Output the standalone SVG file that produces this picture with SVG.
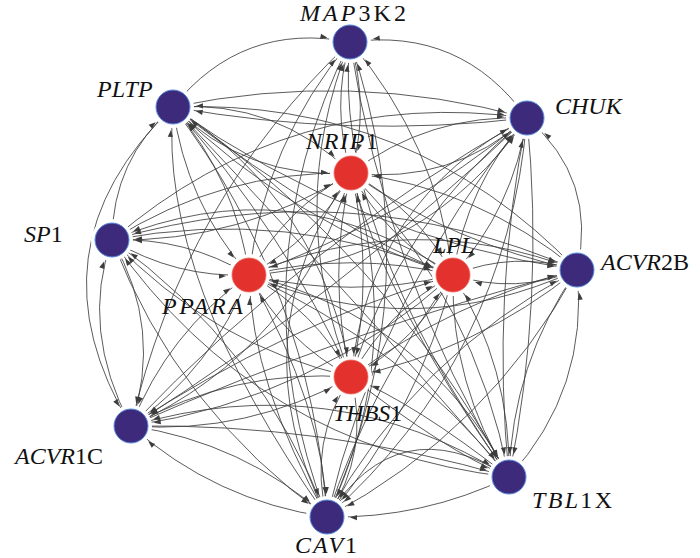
<svg xmlns="http://www.w3.org/2000/svg" width="700" height="558" viewBox="0 0 700 558">
<style>
.e{fill:none;stroke:#3d3d3d;stroke-width:0.85;marker-end:url(#ah)}
.halo{fill:#fff}
.pu{fill:#3d2a7a;stroke:#5b8fe0;stroke-width:1}
.rd{fill:#e3322e;stroke:#f06a60;stroke-width:0.8}
.lb{font-family:"Liberation Serif","Times New Roman",serif;font-size:24px;fill:#111}
.i{font-style:italic}
</style>
<defs>
<marker id="ah" markerUnits="userSpaceOnUse" markerWidth="10" markerHeight="10" refX="23" refY="0" orient="auto" style="overflow:visible"><path d="M0 0L-7 -2.6L-7 2.6Z" fill="#3d3d3d"/></marker>
<marker id="as" markerUnits="userSpaceOnUse" markerWidth="10" markerHeight="10" refX="23" refY="0" orient="auto-start-reverse" style="overflow:visible"><path d="M0 0L-7 -2.6L-7 2.6Z" fill="#3d3d3d"/></marker>
</defs>
<g id="connectors">
<path class="e" d="M173 107Q242 21.25 350 42"/>
<path class="e" d="M527 118Q461.3 26.9 350 42"/>
<path class="e" d="M577 270Q597.6 179 527 118"/>
<path class="e" d="M509 477Q589.5 388.8 577 270"/>
<path class="e" d="M577 270Q512 363.3 509 477"/>
<path class="e" style="marker-start:url(#as)" d="M509 477Q398 406 327 517"/>
<path class="e" d="M509 477Q422.8 518.8 327 517"/>
<path class="e" d="M327 517Q215.5 500.75 131 426"/>
<path class="e" d="M509 477Q331.6 366.5 131 426"/>
<path class="e" d="M131 426Q79.7 328.5 112 240"/>
<path class="e" d="M112 240Q163.4 328.5 131 426"/>
<path class="e" d="M112 240Q112.5 159.9 173 107"/>
<path class="e" d="M173 107Q24.4 249.7 131 426"/>
<path class="e" d="M351 173Q330.9 107.4 350 42"/>
<path class="e" d="M350 42Q370.2 107.4 351 173"/>
<path class="e" d="M249 275Q264.6 143.4 350 42"/>
<path class="e" d="M453 275Q436.5 143.1 350 42"/>
<path class="e" d="M351 377Q283.5 209.3 350 42"/>
<path class="e" d="M327 517Q433.5 284 350 42"/>
<path class="e" d="M509 477Q331.3 223.7 350 42"/>
<path class="e" d="M350 42Q182.75 201 131 426"/>
<path class="e" d="M351 173Q247.15 180 173 107"/>
<path class="e" d="M453 275Q338.2 233 173 107"/>
<path class="e" d="M577 270Q411.75 97.75 173 107"/>
<path class="e" d="M527 118Q349.25 138.75 173 107"/>
<path class="e" d="M351 377Q282.25 228.65 173 107"/>
<path class="e" d="M327 517Q157.75 277.5 173 107"/>
<path class="e" d="M509 477Q385.4 332.35 173 107"/>
<path class="e" d="M173 107Q351.5 69.75 527 118"/>
<path class="e" d="M351 173Q429.1 113.85 527 118"/>
<path class="e" d="M112 240Q291.75 85.6 527 118"/>
<path class="e" d="M249 275Q425.5 263.25 527 118"/>
<path class="e" d="M453 275Q466.45 185.4 527 118"/>
<path class="e" d="M351 377Q400.15 221.1 527 118"/>
<path class="e" d="M327 517Q379 293.5 527 118"/>
<path class="e" d="M509 477Q491 296.15 527 118"/>
<path class="e" d="M527 118Q545 298.85 509 477"/>
<path class="e" d="M131 426Q305.9 242.3 527 118"/>
<path class="e" d="M351 173Q241.55 242.35 112 240"/>
<path class="e" d="M453 275Q291.95 165.4 112 240"/>
<path class="e" d="M577 270Q349.75 171 112 240"/>
<path class="e" d="M249 275Q185.75 236.95 112 240"/>
<path class="e" d="M112 240Q175.25 278.05 249 275"/>
<path class="e" d="M351 377Q210.95 344.35 112 240"/>
<path class="e" d="M327 517Q261.05 346.25 112 240"/>
<path class="e" d="M509 477Q257.25 447.75 112 240"/>
<path class="e" d="M453 275Q351 299.45 249 275"/>
<path class="e" d="M249 275Q351 250.55 453 275"/>
<path class="e" d="M351 173Q315.3 239.3 249 275"/>
<path class="e" d="M249 275Q284.7 208.7 351 173"/>
<path class="e" d="M351 173Q417.3 208.7 453 275"/>
<path class="e" d="M453 275Q386.7 239.3 351 173"/>
<path class="e" d="M453 275Q417.3 341.3 351 377"/>
<path class="e" d="M351 377Q386.7 310.7 453 275"/>
<path class="e" d="M351 173Q375.45 275 351 377"/>
<path class="e" d="M351 377Q326.55 275 351 173"/>
<path class="e" d="M351 377Q284.7 341.3 249 275"/>
<path class="e" d="M249 275Q315.3 310.7 351 377"/>
<path class="e" d="M527 118Q402.1 221.55 249 275"/>
<path class="e" d="M577 270Q414 344.7 249 275"/>
<path class="e" d="M327 517Q251.7 384.3 249 275"/>
<path class="e" d="M249 275Q324.3 407.7 327 517"/>
<path class="e" d="M509 477Q424.45 317.5 249 275"/>
<path class="e" d="M131 426Q167.35 332.8 249 275"/>
<path class="e" d="M249 275Q212.65 368.2 131 426"/>
<path class="e" d="M173 107Q185.8 202.4 249 275"/>
<path class="e" d="M249 275Q236.2 179.6 173 107"/>
<path class="e" d="M527 118Q513.55 207.6 453 275"/>
<path class="e" d="M577 270Q515.9 294.85 453 275"/>
<path class="e" d="M453 275Q514.1 250.15 577 270"/>
<path class="e" d="M509 477Q511.3 367.6 453 275"/>
<path class="e" d="M453 275Q450.7 384.4 509 477"/>
<path class="e" d="M327 517Q370.6 385.9 453 275"/>
<path class="e" d="M453 275Q419.1 411.15 327 517"/>
<path class="e" d="M131 426Q280.75 326.35 453 275"/>
<path class="e" d="M453 275Q314.65 398.8 131 426"/>
<path class="e" d="M112 240Q287.75 206.35 453 275"/>
<path class="e" d="M173 107Q292.9 224.6 453 275"/>
<path class="e" d="M577 270Q476.9 350.65 351 377"/>
<path class="e" d="M351 377Q453.3 300.9 577 270"/>
<path class="e" d="M527 118Q369.1 199.95 351 377"/>
<path class="e" d="M509 477Q415 403.3 351 377"/>
<path class="e" d="M351 377Q445 450.7 509 477"/>
<path class="e" d="M327 517Q307.5 441.6 351 377"/>
<path class="e" d="M351 377Q370.5 452.4 327 517"/>
<path class="e" d="M131 426Q248.35 434.5 351 377"/>
<path class="e" d="M351 377Q233.65 368.5 131 426"/>
<path class="e" d="M173 107Q322.75 201.95 351 377"/>
<path class="e" d="M173 107Q276.85 99.95 351 173"/>
<path class="e" d="M527 118Q451.45 185.1 351 173"/>
<path class="e" d="M112 240Q221.45 170.65 351 173"/>
<path class="e" d="M577 270Q478.55 187.6 351 173"/>
<path class="e" d="M351 173Q454.3 244.1 577 270"/>
<path class="e" d="M131 426Q298 349 351 173"/>
<path class="e" d="M327 517Q235.8 337.8 351 173"/>
<path class="e" d="M509 477Q384.4 301.3 351 173"/>
<path class="e" d="M249 275Q412 206.9 577 270"/>
<path class="e" d="M173 107Q355.4 237 577 270"/>
<path class="e" d="M327 517Q414.95 356 577 270"/>
<path class="e" d="M577 270Q489.05 431 327 517"/>
<path class="e" d="M131 426Q347.8 330.2 577 270"/>
<path class="e" d="M527 118Q344.4 291.8 131 426"/>
<path class="e" d="M131 426Q242.65 442.1 327 517"/>
<path class="e" d="M351 173Q475.6 301.3 509 477"/>
<path class="e" d="M249 275Q403.3 344.8 509 477"/>
<path class="e" d="M173 107Q385.4 251.65 509 477"/>
<path class="e" d="M350 42Q386 275.4 509 477"/>
<path class="e" d="M131 426Q323.9 423.15 509 477"/>
<path class="e" d="M112 240Q177.95 410.75 327 517"/>
<path class="e" d="M173 107Q311.5 288.9 327 517"/>
<path class="e" d="M351 173Q407.8 349.8 327 517"/>
<path class="e" d="M350 42Q234 274.5 327 517"/>
<path class="e" d="M527 118Q506.8 357.5 327 517"/>
</g>
<g id="MAP3K2"><circle class="halo" cx="350" cy="42" r="21"/><circle class="pu" cx="350" cy="42" r="17"/><text class="lb" x="300" y="21" textLength="106"><tspan class="i">MAP</tspan>3K2</text></g>
<g id="PLTP"><circle class="halo" cx="173" cy="107" r="21"/><circle class="pu" cx="173" cy="107" r="17"/><text class="lb i" x="97" y="97">PLTP</text></g>
<g id="CHUK"><circle class="halo" cx="527" cy="118" r="21"/><circle class="pu" cx="527" cy="118" r="17"/><text class="lb i" x="555" y="114">CHUK</text></g>
<g id="NRIP1"><circle class="halo" cx="351" cy="173" r="21"/><circle class="rd" cx="351" cy="173" r="17"/><text class="lb" x="306" y="149" textLength="72"><tspan class="i">NRIP</tspan>1</text></g>
<g id="SP1"><circle class="halo" cx="112" cy="240" r="21"/><circle class="pu" cx="112" cy="240" r="17"/><text class="lb" x="24" y="242"><tspan class="i">SP</tspan>1</text></g>
<g id="PPARA"><circle class="halo" cx="249" cy="275" r="21"/><circle class="rd" cx="249" cy="275" r="17"/><text class="lb i" x="162" y="314" textLength="81">PPARA</text></g>
<g id="LPL"><circle class="halo" cx="453" cy="275" r="21"/><circle class="rd" cx="453" cy="275" r="17"/><text class="lb i" x="433" y="253">LPL</text></g>
<g id="ACVR2B"><circle class="halo" cx="577" cy="270" r="21"/><circle class="pu" cx="577" cy="270" r="17"/><text class="lb" x="601" y="270"><tspan class="i">ACVR</tspan>2B</text></g>
<g id="THBS1"><circle class="halo" cx="351" cy="377" r="21"/><circle class="rd" cx="351" cy="377" r="17"/><text class="lb" x="333" y="421"><tspan class="i">THBS</tspan>1</text></g>
<g id="ACVR1C"><circle class="halo" cx="131" cy="426" r="21"/><circle class="pu" cx="131" cy="426" r="17"/><text class="lb" x="15" y="464"><tspan class="i">ACVR</tspan>1C</text></g>
<g id="TBL1X"><circle class="halo" cx="509" cy="477" r="21"/><circle class="pu" cx="509" cy="477" r="17"/><text class="lb" x="532" y="508" textLength="80"><tspan class="i">TBL</tspan>1X</text></g>
<g id="CAV1"><circle class="halo" cx="327" cy="517" r="21"/><circle class="pu" cx="327" cy="517" r="17"/><text class="lb" x="295" y="553" textLength="62"><tspan class="i">CAV</tspan>1</text></g>
</svg>
